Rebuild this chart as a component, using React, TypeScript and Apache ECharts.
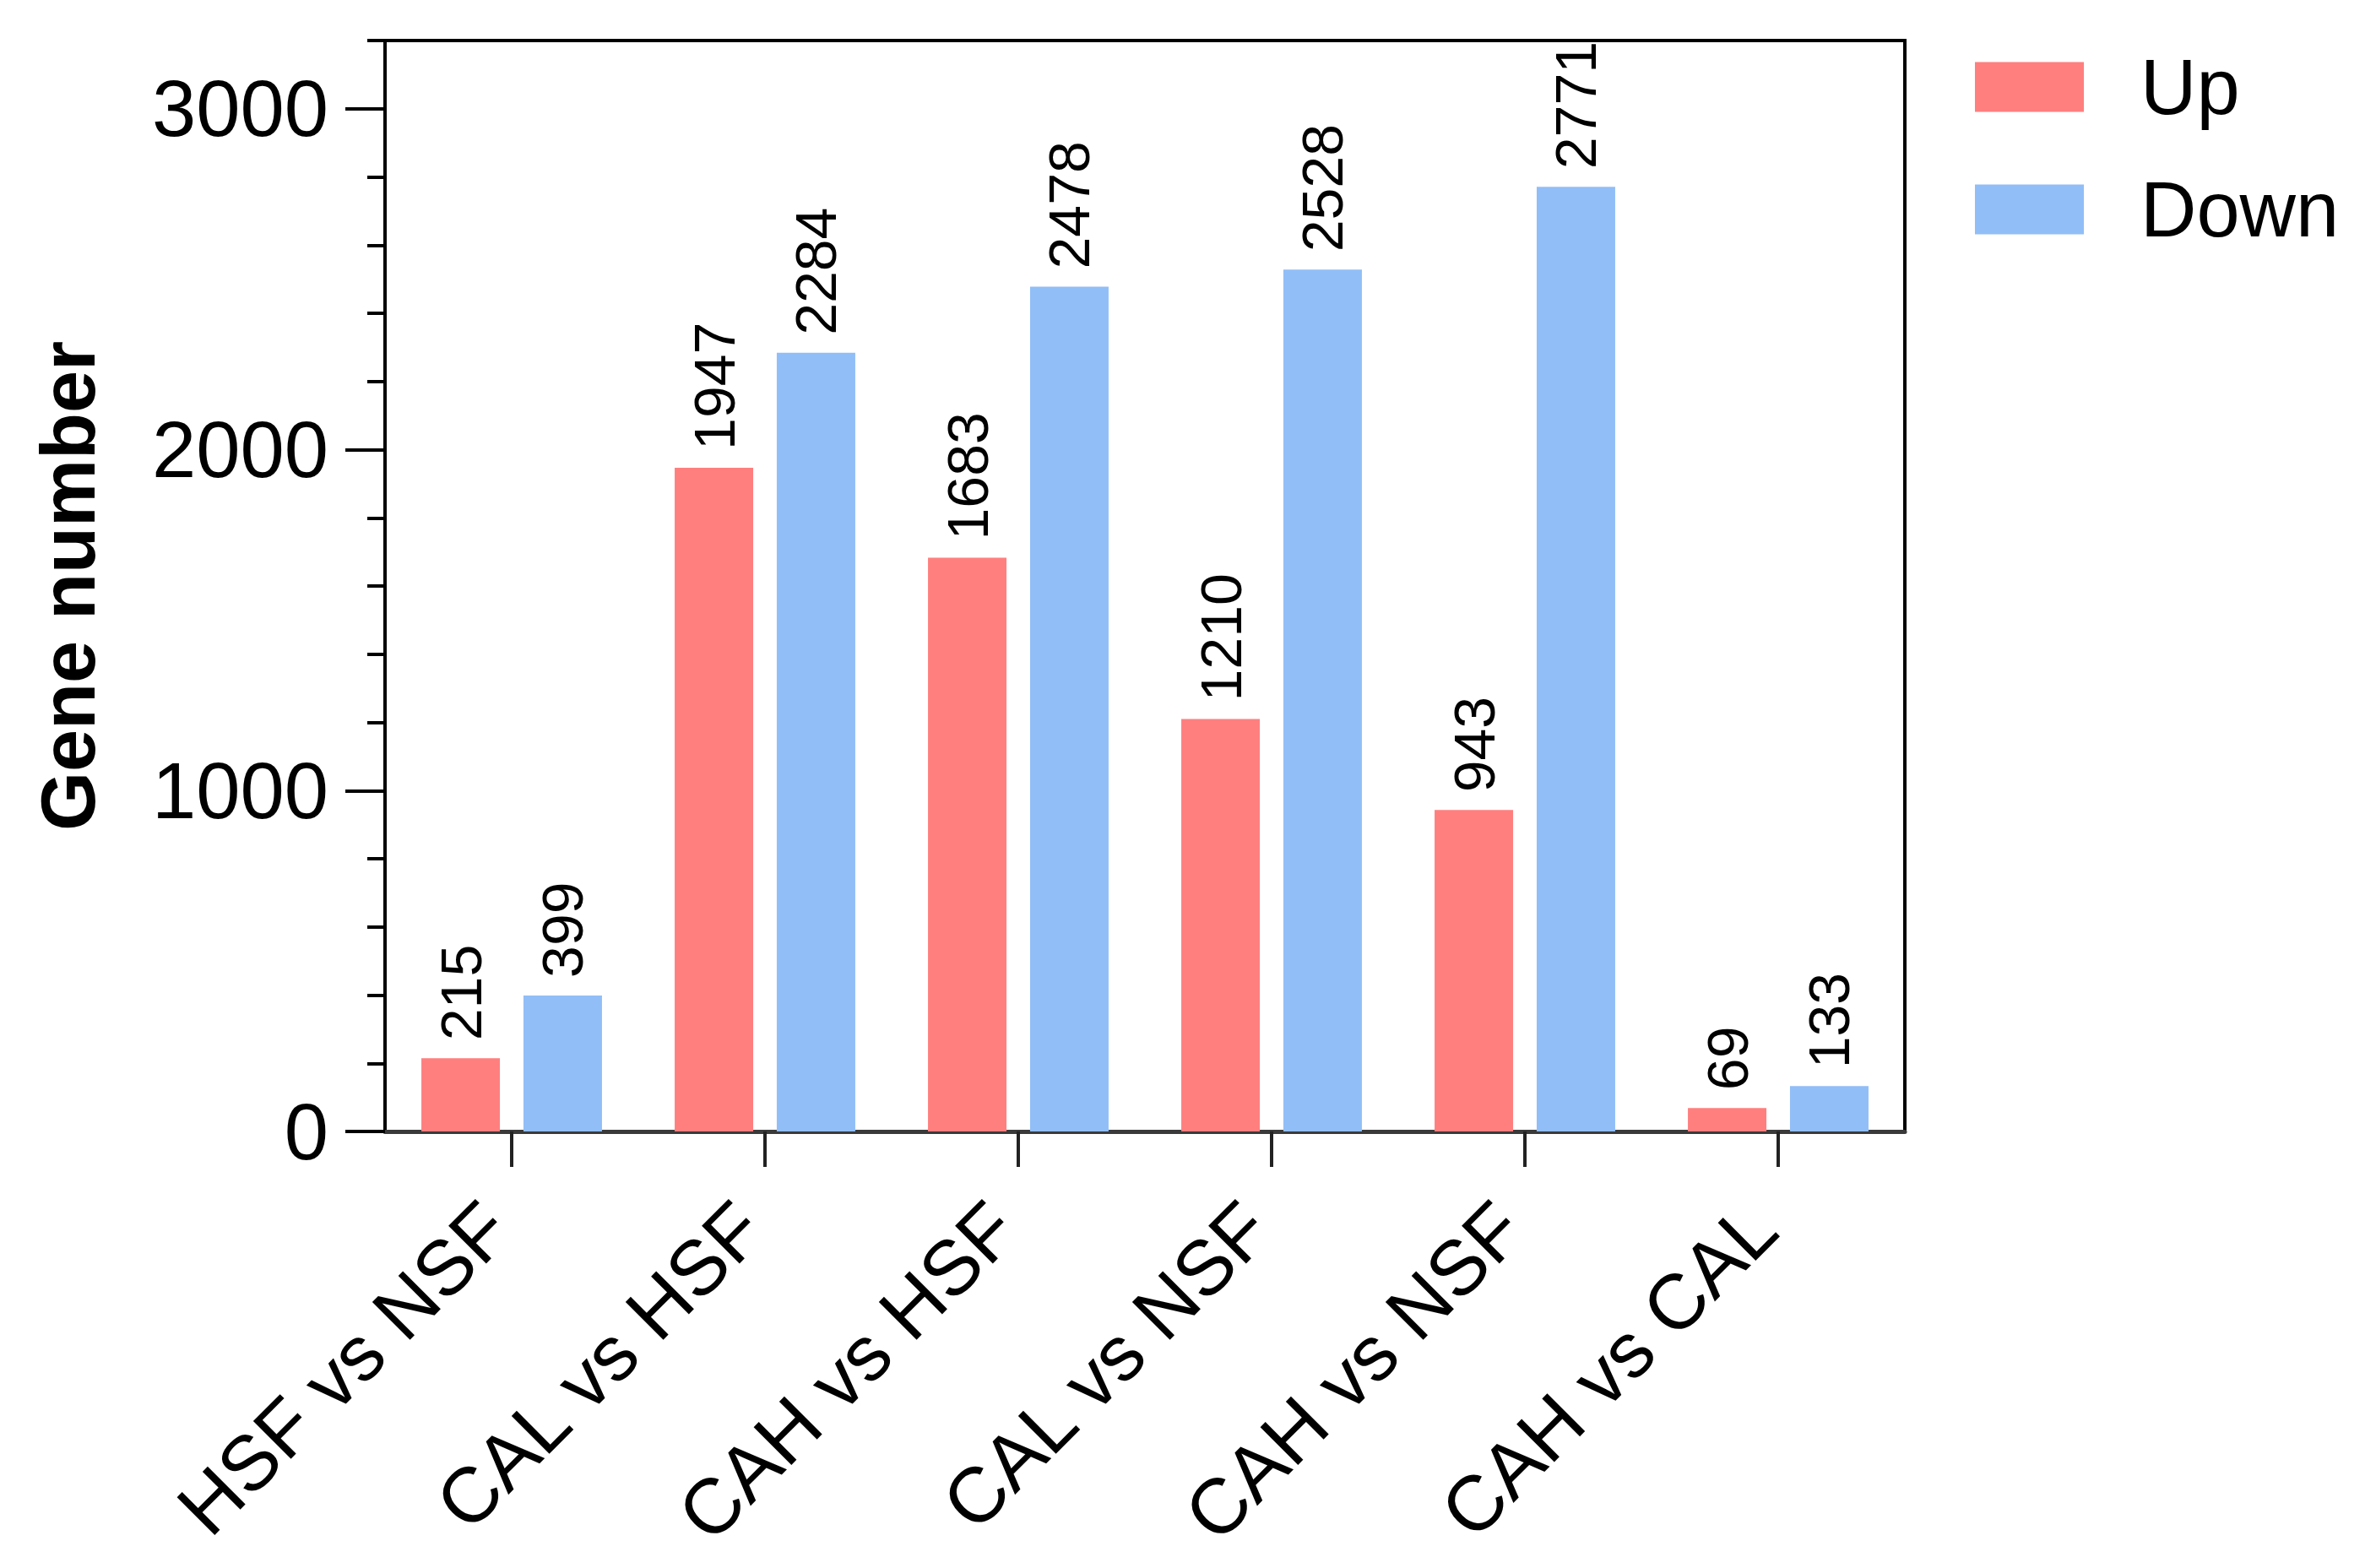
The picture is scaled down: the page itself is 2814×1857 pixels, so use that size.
import React, { useEffect, useRef } from "react";
import * as echarts from "echarts";

const categories = ["HSF vs NSF", "CAL vs HSF", "CAH vs HSF", "CAL vs NSF", "CAH vs NSF", "CAH vs CAL"];
const upValues = [215, 1947, 1683, 1210, 943, 69];
const downValues = [399, 2284, 2478, 2528, 2771, 133];
const majorTicks = [0, 1000, 2000, 3000];
const seriesNames = ["Up", "Down"];

const FONT = "'Liberation Sans', Arial, Helvetica, sans-serif";

export default function App() {
  const ref = useRef<HTMLDivElement>(null);
  useEffect(() => {
    document.body.style.margin = "0";
    const chart = echarts.init(ref.current!, null, { renderer: "svg" });
    const labelCommon = {
      show: true,
      position: "top",
      rotate: 90,
      align: "left",
      verticalAlign: "middle",
      distance: 21,
      fontSize: 68,
      color: "#000",
      fontFamily: FONT,
    };
    chart.setOption({
      animation: false,
      backgroundColor: "#fff",
      textStyle: { fontFamily: FONT },
      grid: {
        left: 456,
        top: 48,
        width: 1800,
        height: 1292,
        show: true,
        borderColor: "#000",
        borderWidth: 4,
        backgroundColor: "transparent",
        containLabel: false,
        outerBoundsMode: "none",
      },
      legend: {
        orient: "vertical",
        left: 2334,
        top: 52,
        itemWidth: 129,
        itemHeight: 59,
        itemGap: 53,
        icon: "rect",
        data: seriesNames,
        textStyle: {
          fontSize: 92,
          color: "#000",
          fontFamily: FONT,
          padding: [0, 0, 0, 62],
        },
      },
      xAxis: {
        type: "category",
        data: categories,
        axisLine: { show: true, lineStyle: { color: "#3a3a3a", width: 5 } },
        axisTick: { show: true, alignWithLabel: true, length: 42, lineStyle: { color: "#222", width: 4 } },
        axisLabel: {
          interval: 0,
          rotate: 45,
          margin: 81,
          fontSize: 92,
          color: "#000",
          fontFamily: FONT,
          formatter: (v: string) => `{t|${v}}{s|\u00a0}`,
          rich: {
            t: { fontSize: 92, color: "#000", fontFamily: FONT },
            s: { fontSize: 92, width: 26 },
          },
        },
        splitLine: { show: false },
      },
      yAxis: [
        {
          type: "value",
          min: 0,
          max: 3200,
          interval: 1000,
          name: "Gene number",
          nameLocation: "middle",
          nameGap: 330,
          nameTextStyle: { fontSize: 90, fontWeight: "bold", color: "#000", fontFamily: FONT },
          axisLine: { show: true, lineStyle: { color: "#000", width: 4 } },
          axisTick: { show: true, length: 47, customValues: majorTicks, lineStyle: { color: "#000", width: 4 } },
          axisLabel: {
            margin: 67,
            fontSize: 94,
            color: "#000",
            fontFamily: FONT,
            customValues: majorTicks,
            formatter: (v: number) => String(v),
          },
          splitLine: { show: false },
        },
        {
          type: "value",
          min: 0,
          max: 3200,
          interval: 200,
          position: "left",
          axisLine: { show: false },
          axisTick: { show: true, length: 21, lineStyle: { color: "#000", width: 4 } },
          axisLabel: { show: false },
          splitLine: { show: false },
        },
      ],
      series: [
        {
          name: seriesNames[0],
          type: "bar",
          data: upValues,
          barWidth: 93,
          barGap: "30%",
          itemStyle: { color: "#FF7F7F" },
          label: labelCommon,
        },
        {
          name: seriesNames[1],
          type: "bar",
          data: downValues,
          barWidth: 93,
          barGap: "30%",
          itemStyle: { color: "#91BEF7" },
          label: labelCommon,
        },
      ],
    });
    return () => chart.dispose();
  }, []);
  return <div ref={ref} style={{ position: "absolute", left: 0, top: 0, width: 2814, height: 1857 }} />;
}
